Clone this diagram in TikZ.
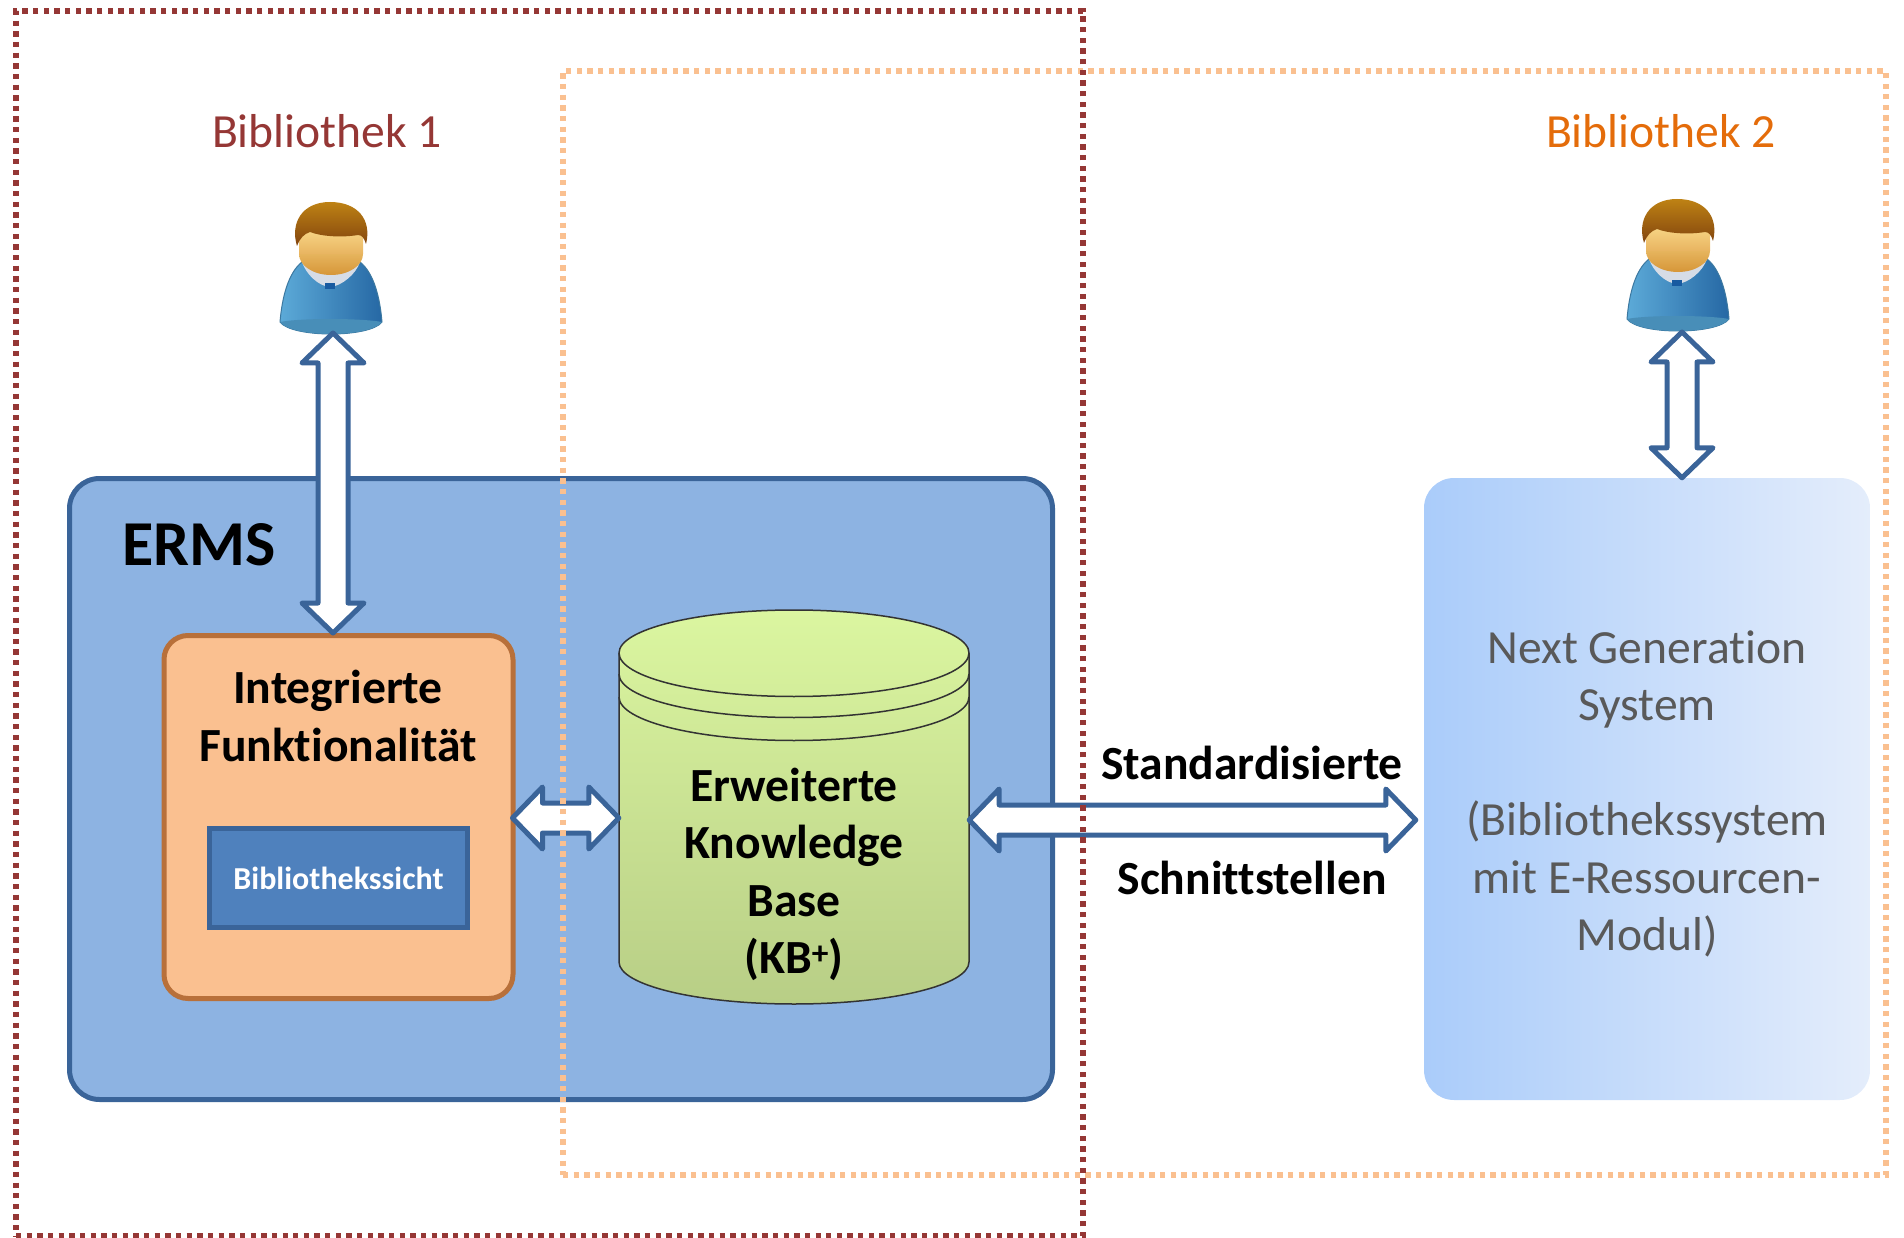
\documentclass[tikz,border=0pt]{standalone}
\usepackage{fontspec}
\setmainfont{Carlito}[Ligatures=NoCommon]
\usetikzlibrary{calc}
\definecolor{libred}{HTML}{953735}
\definecolor{liborange}{HTML}{E46C0A}
\definecolor{dotorange}{HTML}{FAC090}
\definecolor{arrowblue}{HTML}{3A6499}
\definecolor{ermsfill}{HTML}{8DB3E2}
\definecolor{greytext}{HTML}{595959}
\tikzset{
  bigtext/.style={font=\fontsize{47.6}{57.5}\selectfont, align=center, inner sep=0pt},
  boldtext/.style={bigtext, font=\fontsize{47.6}{57.5}\selectfont\bfseries},
  dotbox/.style={line width=5.3pt, dash pattern=on 5.33pt off 5.33pt},
  blockarrow/.style={draw=arrowblue, fill=white, line width=5pt, line join=round,
    to path={
      -- ($(\tikztostart)!30pt!(\tikztotarget)!31pt!90:(\tikztotarget)$)
      -- ($(\tikztostart)!30pt!(\tikztotarget)!15pt!90:(\tikztotarget)$)
      -- ($(\tikztotarget)!30pt!(\tikztostart)!15pt!-90:(\tikztostart)$)
      -- ($(\tikztotarget)!30pt!(\tikztostart)!31pt!-90:(\tikztostart)$)
      -- (\tikztotarget)
      -- ($(\tikztotarget)!30pt!(\tikztostart)!31pt!90:(\tikztostart)$)
      -- ($(\tikztotarget)!30pt!(\tikztostart)!15pt!90:(\tikztostart)$)
      -- ($(\tikztostart)!30pt!(\tikztotarget)!15pt!-90:(\tikztotarget)$)
      -- ($(\tikztostart)!30pt!(\tikztotarget)!31pt!-90:(\tikztotarget)$)
      -- cycle}},
  person/.pic={
    % body
    \path[draw={rgb,255:red,60;green,120;blue,160}, line width=1pt, shading=axis,
      left color={rgb,255:red,92;green,170;blue,216}, right color={rgb,255:red,38;green,104;blue,164}]
      (-50,54) .. controls (-48,30) and (-42,5) .. (-28,-6)
      -- (30,-6) .. controls (44,5) and (50,30) .. (52,54)
      .. controls (40,70) and (-38,70) .. cycle;
    \path[fill={rgb,255:red,72;green,142;blue,184}]
      (-50,54) .. controls (-30,50) and (30,50) .. (52,54)
      .. controls (40,70) and (-38,70) .. cycle;
    % collar
    \path[fill={rgb,255:red,214;green,220;blue,230}] (-28,-6) -- (30,-6) .. controls (26,6) and (12,18) .. (0,19)
      .. controls (-12,18) and (-24,6) .. cycle;
    \path[fill={rgb,255:red,24;green,90;blue,160}] (-5,15) rectangle (5,21);
    % face
    \path[top color={rgb,255:red,246;green,210;blue,130}, bottom color={rgb,255:red,214;green,150;blue,56}]
      (1,-14) ellipse [x radius=32, y radius=21];
    \path[top color={rgb,255:red,246;green,210;blue,130}, bottom color={rgb,255:red,232;green,180;blue,96}]
      (-31,-14) -- (-31,-36) -- (33,-36) -- (33,-14) -- cycle;
    % hair
    \path[top color={rgb,255:red,190;green,130;blue,20}, bottom color={rgb,255:red,130;green,68;blue,14}]
      (-33,-22) .. controls (-40,-45) and (-28,-66) .. (0,-66)
      .. controls (28,-66) and (42,-48) .. (36,-24)
      .. controls (34,-30) and (32,-33) .. (28,-33)
      .. controls (10,-30) and (-10,-32) .. (-20,-36)
      .. controls (-26,-34) and (-30,-30) .. cycle;
    \coordinate (-foot) at (3,65);
  }
}
\begin{document}
\begin{tikzpicture}[x=1pt,y=-1pt]
  \useasboundingbox (0,0) rectangle (1904,1238);
  % boxes
  \node[draw=arrowblue, fill=ermsfill, line width=5pt, rounded corners=30pt, inner sep=0pt,
    minimum width=983pt, minimum height=621pt] (erms) at (561,789) {};
  \node[draw=none, rounded corners=30pt, left color={rgb,255:red,170;green,204;blue,250},
    right color={rgb,255:red,228;green,237;blue,251}, inner sep=0pt,
    minimum width=446pt, minimum height=622pt] (nextgen) at (1647,789) {};
  \node[draw={rgb,255:red,184;green,112;blue,58}, fill=dotorange, line width=5pt, rounded corners=24pt, inner sep=0pt,
    minimum width=349pt, minimum height=363pt] (inte) at (338.5,817) {};
  \node[draw=arrowblue, fill={rgb,255:red,79;green,129;blue,189}, line width=5pt, inner sep=0pt,
    minimum width=258pt, minimum height=99pt, text=white,
    font=\fontsize{32}{36}\selectfont\bfseries] (sicht) at (338.5,878) {Bibliothekssicht};
  % cylinder
  \path[draw=black!80, line width=1.5pt, top color={rgb,255:red,219;green,246;blue,160},
    bottom color={rgb,255:red,184;green,206;blue,134}]
    (619,653) arc [start angle=180, end angle=360, x radius=175, y radius=43]
    -- (969,962) arc [start angle=0, end angle=180, x radius=175, y radius=42] -- cycle;
  \draw[black!80, line width=1.5pt]
    (619,653) arc [start angle=180, end angle=0, x radius=175, y radius=43.5]
    (619,674) arc [start angle=180, end angle=0, x radius=175, y radius=43.5]
    (619,697) arc [start angle=180, end angle=0, x radius=175, y radius=43.5];
  \node[minimum width=350pt, minimum height=394pt, inner sep=0pt] (kb) at (794,807) {};
  % texts
  \node[bigtext, font=\fontsize{64}{66}\selectfont\bfseries, anchor=west] (ermstitle) at (122,545) {ERMS};
  \node[boldtext] (intetitle) at (338,716) {Integrierte\\Funktionalität};
  \node[boldtext] (kbtitle) at (794,874.5) {Erweiterte\\Knowledge\\Base\\(KB\textsuperscript{+})};
  \node[bigtext, text=greytext] (ngtitle) at (1647,794) {Next Generation\\System\\[57.5pt](Bibliothekssystem\\mit E-Ressourcen-\\Modul)};
  \node[bigtext, text=libred] (libA) at (327,131) {Bibliothek 1};
  \node[bigtext, text=liborange] (libB) at (1661,131) {Bibliothek 2};
  \node[boldtext] (stdA) at (1252,763) {Standardisierte};
  \node[boldtext] (stdB) at (1252,878) {Schnittstellen};
  % persons
  \pic (userA) at (330,268) {person};
  \pic (userB) at (1677,265) {person};
  % arrows
  \draw[blockarrow] (userA-foot) to (userA-foot |- inte.north);
  \draw[blockarrow] ([xshift=2pt,yshift=-2pt]userB-foot) to ([xshift=2pt]userB-foot |- nextgen.north);
  \draw[blockarrow] ([xshift=-3pt]inte.east |- 0,818) to (kb.west |- 0,818);
  \draw[blockarrow] (kb.east |- 0,820) to ([xshift=-8pt]nextgen.west |- 0,820);
  % library frames
  \node[draw=dotorange, dotbox, inner sep=0pt, minimum width=1323pt, minimum height=1104pt] (frameB) at (1224.5,623) {};
  \node[draw=libred, dotbox, inner sep=0pt, minimum width=1067pt, minimum height=1225pt] (frameA) at (549.5,623.5) {};
\end{tikzpicture}
\end{document}
